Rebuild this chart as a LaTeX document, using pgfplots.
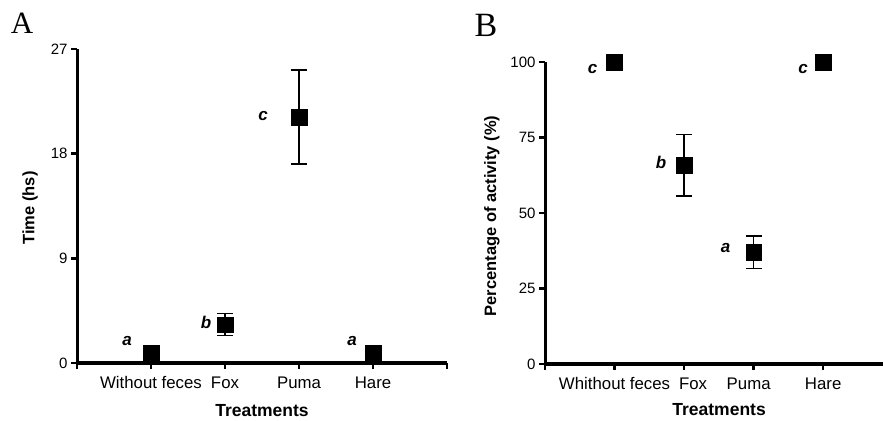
\documentclass[border=0pt]{standalone}
\usepackage{fontspec}
\setmainfont{Liberation Sans}
\newfontfamily\seriffont{Liberation Serif}
\usepackage{pgfplots}
\pgfplotsset{compat=1.18}
\tikzset{lettr/.style={font=\fontsize{17bp}{17bp}\selectfont\bfseries\itshape, inner sep=0pt}}
\pgfplotsset{
 myaxis/.style={
  scale only axis,
  axis x line=bottom, axis y line=left,
  axis line style={-},
  every outer x axis line/.append style={line width=3bp, black},
  every outer y axis line/.append style={line width=3bp, black},
  every inner x axis line/.append style={line width=3bp, black},
  every inner y axis line/.append style={line width=3bp, black},
  every tick/.append style={black, line width=2.4bp},
  tick align=outside,
  major tick length=6bp,
  /pgf/number format/assume math mode=true,
  yticklabel style={font=\fontsize{15bp}{17bp}\selectfont},
  xticklabel style={font=\fontsize{16.8bp}{18bp}\selectfont, yshift=-4bp},
  xlabel style={font=\fontsize{17.5bp}{19bp}\selectfont\bfseries},
  ylabel style={font=\fontsize{16.5bp}{18bp}\selectfont\bfseries},
  xmin=0, ymin=0,
  clip=false,
 },
 myplot/.style={only marks, mark=square*, mark size=7.9bp, draw=black, fill=black,
  mark options={draw=black, fill=black},
  error bars/.cd, y dir=both, y explicit, error mark=|,
  error bar style={draw=black, line width=1.5bp},
  error mark options={draw=black, line width=1.5bp, mark size=8.1bp}},
}
\begin{document}
\begin{tikzpicture}
\path[use as bounding box] (0bp,0bp) rectangle (883bp,421bp);
\node[font=\seriffont\fontsize{31bp}{31bp}\selectfont, inner sep=0pt] at (22bp,398bp) {A};
\node[font=\seriffont\fontsize{34bp}{34bp}\selectfont, inner sep=0pt] at (486bp,396bp) {B};
% Panel A
\begin{axis}[myaxis,
  at={(77bp,58bp)}, anchor=south west,
  width=370bp, height=314bp,
  xmax=5, ymax=27,
  xtick={0,1,2,3,4,5},
  xticklabels={{},{Without feces},{Fox},{Puma},{Hare},{}},
  ytick={0,9,18,27},
  xlabel={Treatments},
  ylabel={Time (hs)},
  xlabel style={at={(axis description cs:0.5,-0.153)}, anchor=center},
  ylabel style={at={(axis description cs:-0.127,0.494)}, anchor=center},
]
\addplot[myplot] table[x=x, y=y, y error=e] {
x y e
1 0.86 0
2 3.3 0.95
3 21.15 4.05
4 0.86 0
};
\node[lettr] at (axis cs:1,0.86) [xshift=-24bp, yshift=12bp] {a};
\node[lettr] at (axis cs:2,3.3) [xshift=-19bp, yshift=2bp] {b};
\node[lettr] at (axis cs:3,21.15) [xshift=-36bp, yshift=1bp] {c};
\node[lettr] at (axis cs:4,0.86) [xshift=-21bp, yshift=12bp] {a};
\end{axis}
% Panel B
\begin{axis}[myaxis,
  at={(545bp,57bp)}, anchor=south west,
  width=338bp, height=302bp,
  xmax=4.86, ymax=100,
  xtick={0,1,2,3,4},
  xticklabels={{},{Whithout feces},{\hspace*{18bp}Fox},{\hspace*{-10bp}Puma},{Hare}},
  ytick={0,25,50,75,100},
  xlabel={Treatments},
  ylabel={Percentage of activity (\%)},
  xlabel style={at={(axis description cs:0.515,-0.152)}, anchor=center},
  ylabel style={at={(axis description cs:-0.157,0.49)}, anchor=center},
]
\addplot[myplot] table[x=x, y=y, y error=e] {
x y e
1 100 0
2 65.8 10.2
3 37.0 5.4
4 100 0
};
\node[lettr] at (axis cs:1,100) [xshift=-22bp, yshift=-7bp] {c};
\node[lettr] at (axis cs:2,65.8) [xshift=-23bp, yshift=3bp] {b};
\node[lettr] at (axis cs:3,37.0) [xshift=-28bp, yshift=4bp] {a};
\node[lettr] at (axis cs:4,100) [xshift=-20bp, yshift=-7bp] {c};
\end{axis}
\end{tikzpicture}
\end{document}
